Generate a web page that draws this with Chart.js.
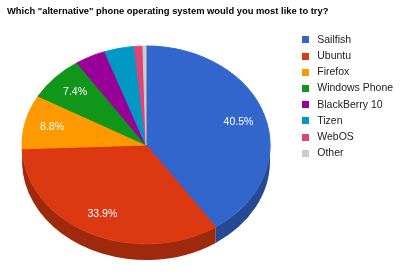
<!DOCTYPE html>
<html>
<head>
<meta charset="utf-8">
<script src="https://cdn.jsdelivr.net/npm/chart.js@4.4.1/dist/chart.umd.min.js"></script>
<style>
  html, body { margin: 0; padding: 0; background: #fff; }
</style>
</head>
<body>
<canvas id="pie" width="400" height="277"></canvas>
<script>
// ===== data =====
const TITLE  = 'Which "alternative" phone operating system would you most like to try?';
const LABELS = ["Sailfish", "Ubuntu", "Firefox", "Windows Phone", "BlackBerry 10", "Tizen", "WebOS", "Other"];
const SHARES = [40.5, 33.9, 8.8, 7.4, 4.0, 3.9, 1.1, 0.4];
const COLORS = ["#3366cc", "#dc3912", "#ff9900", "#109618", "#990099", "#0099c6", "#dd4477", "#cccccc"];

// ===== where the tilted pie sits =====
const CX = 146, CY = 145;    // centre of top face
const RX = 124, RY = 99;     // ellipse radii
const DEPTH = 16;            // thickness of the side wall
const LABEL_AT = 0.78;       // label distance, fraction of radius
const MIN_LABEL = 5;         // no label on tiny slices
const FONT = '"Liberation Sans", Arial, sans-serif';
const SWATCH = 7;            // legend square

function darker(hex, f){
  const n = parseInt(hex.slice(1), 16);
  const r = (n >> 16) & 255, g = (n >> 8) & 255, b = n & 255;
  return `rgb(${Math.round(r*f)},${Math.round(g*f)},${Math.round(b*f)})`;
}

// small square used as legend marker (leaves a wider gap before the text)
function swatch(color){
  const c = document.createElement("canvas");
  c.width = SWATCH; c.height = SWATCH;
  const g = c.getContext("2d");
  g.fillStyle = color;
  g.fillRect(0, 0, SWATCH, SWATCH);
  return c;
}

// squash the library's round pie into an ellipse and give it a side wall
const tiltPlugin = {
  id: "tilt",
  beforeDatasetsDraw(chart){
    const ctx = chart.ctx;
    const arcs = chart.getDatasetMeta(0).data;

    // side wall: only the front half (0..PI) can be seen
    arcs.forEach((arc, i) => {
      const { startAngle, endAngle } = arc.getProps(["startAngle", "endAngle"], true);
      const a0 = Math.max(startAngle, 0);
      const a1 = Math.min(endAngle, Math.PI);
      if (a1 <= a0) return;
      ctx.beginPath();
      ctx.ellipse(CX, CY, RX, RY, 0, a0, a1);
      ctx.ellipse(CX, CY + DEPTH, RX, RY, 0, a1, a0, true);
      ctx.closePath();
      ctx.fillStyle = darker(COLORS[i], 0.72);
      ctx.fill();
    });

    const { x, y, outerRadius } = arcs[0].getProps(["x", "y", "outerRadius"], true);
    ctx.save();
    ctx.translate(CX, CY);
    ctx.scale(RX / outerRadius, RY / outerRadius);
    ctx.translate(-x, -y);
  },
  afterDatasetsDraw(chart){
    const ctx = chart.ctx;
    ctx.restore();

    const data = chart.data.datasets[0].data;
    const total = data.reduce((s, v) => s + v, 0);
    const arcs = chart.getDatasetMeta(0).data;

    ctx.save();
    ctx.fillStyle = "#fff";
    ctx.font = `10.5px ${FONT}`;
    ctx.textAlign = "center";
    ctx.textBaseline = "middle";
    arcs.forEach((arc, i) => {
      const pct = data[i] / total * 100;
      if (pct < MIN_LABEL) return;
      const { startAngle, endAngle } = arc.getProps(["startAngle", "endAngle"], true);
      const mid = (startAngle + endAngle) / 2;
      const px = CX + Math.cos(mid) * RX * LABEL_AT;
      const py = CY + Math.sin(mid) * RY * LABEL_AT;
      ctx.fillText(pct.toFixed(1) + "%", px, py);
    });
    ctx.restore();
  }
};

new Chart(document.getElementById("pie"), {
  type: "pie",
  data: {
    labels: LABELS,
    datasets: [{
      data: SHARES,
      backgroundColor: COLORS,
      borderColor: COLORS,
      borderWidth: 1,
      clip: false,
    }]
  },
  options: {
    responsive: false,
    devicePixelRatio: 1,
    animation: false,
    layout: { padding: { left: 7, right: 6.7, top: 0, bottom: 0 } },
    plugins: {
      title: {
        display: true,
        text: TITLE,
        align: "start",
        color: "#000",
        font: { family: FONT, size: 9.4, weight: "bold" },
        padding: { top: 6, bottom: 11.6 },
      },
      legend: {
        position: "right",
        align: "start",
        fullSize: false,
        maxWidth: 100,
        labels: {
          usePointStyle: true,
          pointStyleWidth: 13,
          boxHeight: SWATCH,
          padding: 5.7,
          color: "#222",
          font: { family: FONT, size: 10.5 },
          generateLabels(chart){
            const items = Chart.controllers.pie.overrides.plugins.legend.labels.generateLabels(chart);
            return items.map((it, i) => ({ ...it, pointStyle: swatch(COLORS[i]), lineWidth: 0 }));
          }
        }
      },
      tooltip: { enabled: false },
    }
  },
  plugins: [tiltPlugin]
});
</script>
</body>
</html>
